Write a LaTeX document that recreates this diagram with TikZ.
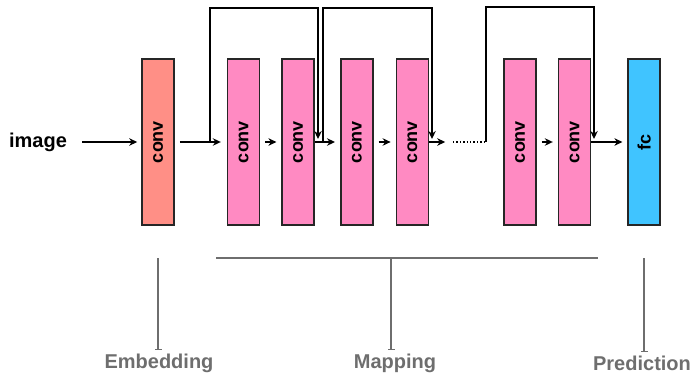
\documentclass[tikz,border=0pt]{standalone}
\usepackage{fontspec}
\setmainfont{Liberation Sans}
\usepackage{graphicx}
\usetikzlibrary{arrows.meta, positioning}

\definecolor{embcol}{HTML}{FF8F86}
\definecolor{mapcol}{HTML}{FF8AC2}
\definecolor{fccol}{HTML}{40C4FF}
\definecolor{stagegray}{HTML}{6E6E6E}

\begin{document}
\begin{tikzpicture}[x=1pt, y=-1pt,
    layer/.style={draw=black!85, line width=1.6pt, fill=mapcol, rectangle, minimum width=32pt, minimum height=166pt, inner sep=0pt, font=\fontsize{18}{18}\selectfont\bfseries},
    arrow/.style={-{Stealth[length=8pt, width=7.5pt]}, line width=1.5pt, black},
    stage/.style={text=stagegray, font=\fontsize{20}{20}\selectfont\bfseries},
    tee/.style={draw=stagegray, line width=1.5pt, -{Bar[width=7pt, line width=1.5pt]}}
]
\useasboundingbox (0,0) rectangle (692,385);

% layers
\node[layer, fill=embcol] (c0) at (158,142) {\rotatebox{90}{conv}};
\node[layer, right=52pt of c0] (c1) {\rotatebox{90}{conv}};
\node[layer, right=21pt of c1] (c2) {\rotatebox{90}{conv}};
\node[layer, right=25pt of c2] (c3) {\rotatebox{90}{conv}};
\node[layer, right=22pt of c3] (c4) {\rotatebox{90}{conv}};
\node[layer, right=74pt of c4] (c5) {\rotatebox{90}{conv}};
\node[layer, right=21pt of c5] (c6) {\rotatebox{90}{conv}};
\node[layer, fill=fccol, right=36pt of c6] (fc) {\rotatebox{90}{fc}};

\node[font=\fontsize{20}{20}\selectfont\bfseries] (img) at (38,142) {image};

% skip connection points
\coordinate (s1) at (210,142);
\coordinate (e1) at (318,142);
\coordinate (s2) at (323,142);
\coordinate (e2) at (432,142);
\coordinate (d1) at (453,142);
\coordinate (s3) at (486,142);
\coordinate (e3) at (594,142);

% main path
\draw[arrow, shorten <=12pt, shorten >=4pt] (img) -- (c0);
\draw[arrow] ([xshift=5pt]c0.east) -- ([xshift=-6pt]c1.west);
\draw[arrow] ([xshift=5pt]c1.east) -- ([xshift=-5pt]c2.west);
\draw[arrow] (c2.east) -- ([xshift=-5pt]c3.west);
\draw[arrow] ([xshift=5pt]c3.east) -- ([xshift=-5pt]c4.west);
\draw[arrow] (c4.east) -- ++(16,0);
\draw[dotted, line width=1.4pt] (d1) -- (s3);
\draw[arrow] ([xshift=5pt]c5.east) -- ([xshift=-5pt]c6.west);
\draw[arrow] (c6.east) -- ([xshift=-5pt]fc.west);

% skips
\draw[arrow] (s1) -- ++(0,-134) -| ([yshift=3pt]e1);
\draw[arrow] (s2) -- ++(0,-134) -| ([yshift=3pt]e2);
\draw[arrow] (s3) -- ++(0,-135) -| ([yshift=3pt]e3);

% stages
\node[stage] (emb) at (159,363) {Embedding};
\node[stage] (map) at (395,363) {Mapping};
\node[stage] (pred) at (642,363) {Prediction};

\coordinate (m1) at (216,258);
\coordinate (m2) at (598,258);
\coordinate (mc) at (391,258);
\draw[stagegray, line width=1.5pt] (m1) -- (m2);
\draw[tee] (c0 |- m1) -- (c0 |- emb.north);
\draw[tee] (mc) -- (mc |- map.north);
\draw[tee] (fc |- m1) -- (fc |- pred.north);
\end{tikzpicture}
\end{document}
